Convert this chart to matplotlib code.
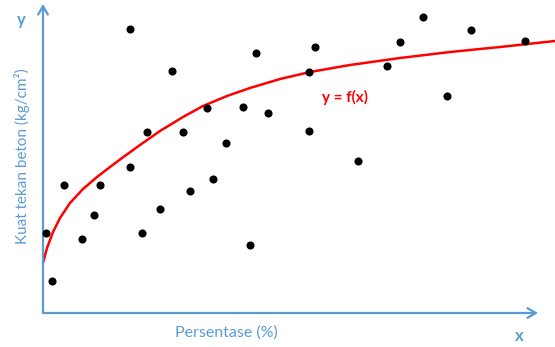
import numpy as np
import matplotlib.pyplot as plt

# scatter points (x = persentase, y = kuat tekan)
x_pts = [3, 9, 21, 39, 51, 57, 87, 87, 99, 104, 117, 129, 140, 147, 164, 170,
         183, 200, 207, 213, 225, 266, 266, 272, 315, 344, 357, 380, 404, 428, 482]
y_pts = [80, 32, 128, 74, 98, 128, 284, 146, 80, 181, 104, 242, 181, 122, 205, 134,
         170, 206, 68, 260, 200, 241, 182, 266, 152, 247, 271, 296, 217, 283, 272]

# trend line y = f(x)
x_fit = [0, 4, 10, 17, 27, 40, 54, 67, 79, 97, 117, 140, 160, 184, 207, 237,
         267, 307, 357, 407, 457, 512]
y_fit = [50, 65, 81, 95, 110, 124, 136, 146, 155, 168, 182, 196, 207, 217, 225, 234,
         241, 248, 255, 261, 266, 272]

blue = '#5B9BD5'
plt.rcParams['font.family'] = ['Lato', 'DejaVu Sans']

fig = plt.figure(figsize=(5.55, 3.47), dpi=100)
ax = fig.add_axes([0, 0, 1, 1])
ax.set_xlim(-43, 512)
ax.set_ylim(-34, 313)
ax.axis('off')

# axes with open arrow heads
arrow = dict(arrowstyle='->,head_length=0.6,head_width=0.35', color=blue, lw=1.6,
             shrinkA=0, shrinkB=0)
ax.annotate('', xy=(0, 309), xytext=(0, 0), arrowprops=arrow)
ax.annotate('', xy=(495, 0), xytext=(0, 0), arrowprops=arrow)

ax.plot(x_fit, y_fit, color='#FF0000', lw=1.8, solid_capstyle='round',
        solid_joinstyle='round', zorder=2)
ax.scatter(x_pts, y_pts, s=34, color='black', zorder=3, linewidths=0)

ax.text(302, 216, 'y = f(x)', color='#FF0000', fontsize=11, fontweight='bold',
        ha='center', va='center')
ax.text(-22, 293, 'y', color=blue, fontsize=12, fontweight='bold', ha='center', va='center')
ax.text(476, -23, 'x', color=blue, fontsize=12, fontweight='bold', ha='center', va='center')
ax.text(183, -20, 'Persentase (%)', color=blue, fontsize=11.5, ha='center', va='center')
ax.text(-21, 157, 'Kuat tekan beton (kg/cm²)', color=blue, fontsize=11,
        rotation=90, ha='center', va='center')

fig.savefig('out.png', dpi=100)
